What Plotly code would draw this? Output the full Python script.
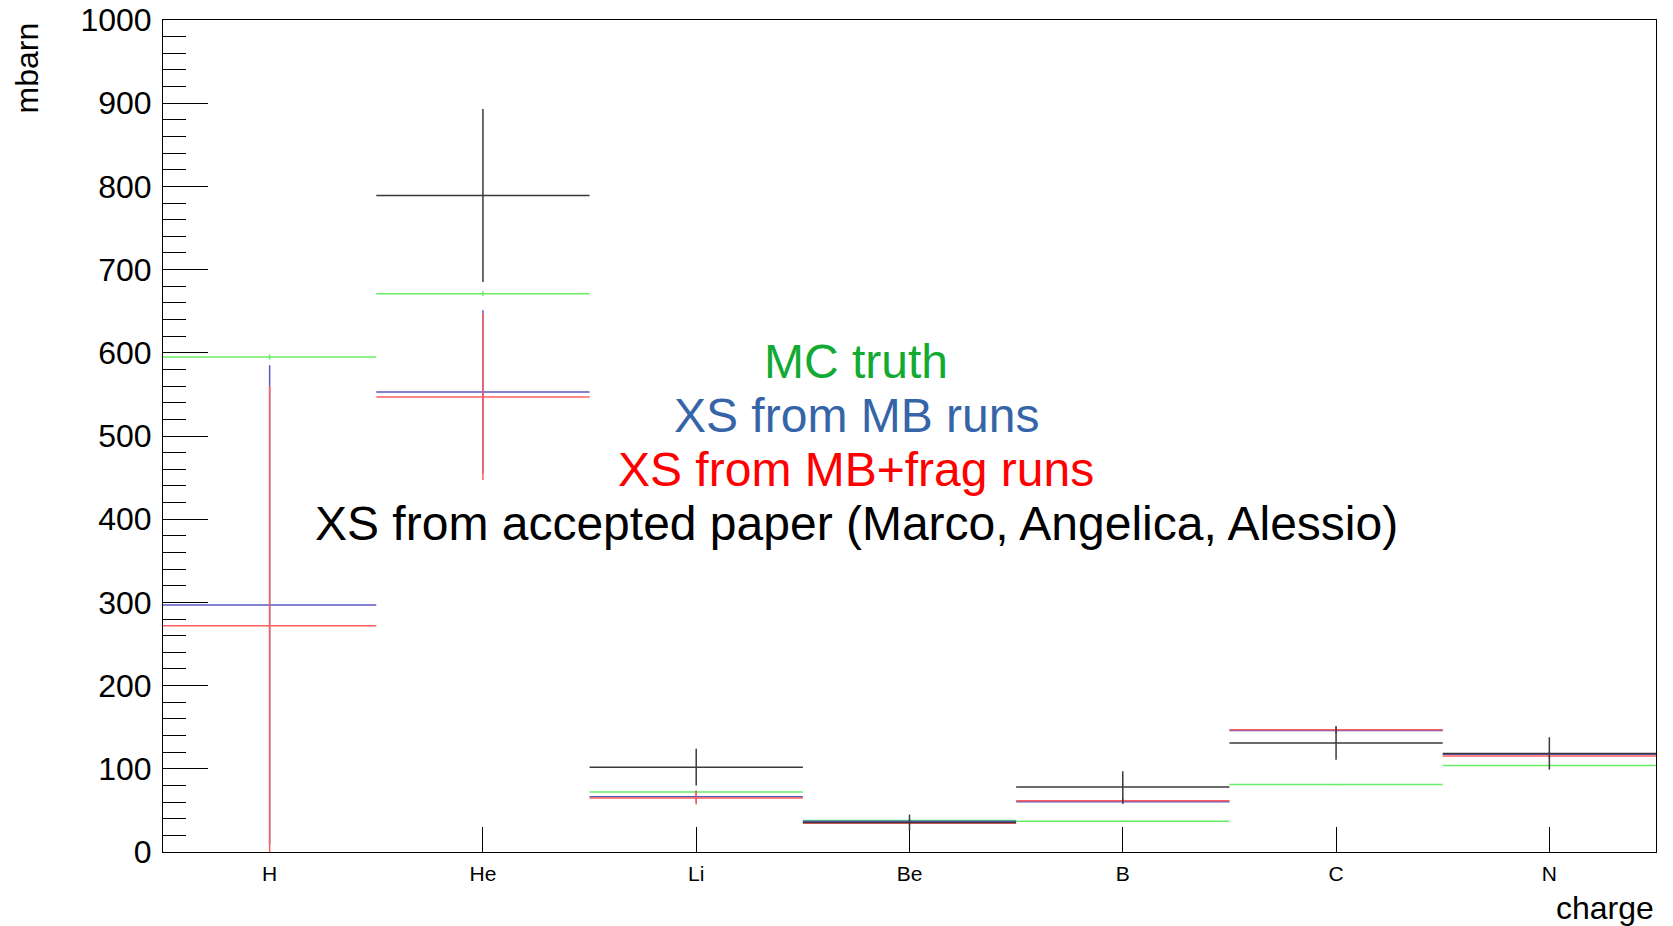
import plotly.graph_objects as go

# ---- data ----
labels = ["H", "He", "Li", "Be", "B", "C", "N"]
bin_centers = [1, 2, 3, 4, 5, 6, 7]

mc_truth = [595, 671, 72, 38, 37, 81, 104]
mc_truth_err = [3, 3, 2, 1, 1, 1, 1]

xs_mb = [297, 553, 66.5, 37, 60.5, 146, 117.5]
xs_mb_err = [288, 98, 7, 2, 3, 4, 3]

xs_mbfrag = [272, 547, 65, 34.5, 61.5, 147, 115.5]
xs_mbfrag_err = [288, 100, 8, 2, 3, 4, 3]

paper_labels = ["He", "Li", "Be", "B", "C", "N"]
paper_centers = [2, 3, 4, 5, 6, 7]
xs_paper = [789, 102, 35.5, 78, 131, 118.5]
xs_paper_err = [104, 22, 9.5, 19, 20, 19.5]

legend_texts = ["MC truth", "XS from MB runs", "XS from MB+frag runs",
                "XS from accepted paper (Marco, Angelica, Alessio)"]
legend_colors = ["#12aa32", "#3565a8", "#ff0000", "#000000"]

FONT = "Liberation Sans, Arial, Helvetica, sans-serif"

fig = go.Figure()


def add_series(x, y, err, color, width=1.5):
    fig.add_trace(go.Scatter(
        x=x, y=y, mode="markers",
        marker=dict(size=1, opacity=0),
        error_x=dict(type="constant", value=0.5, width=0, thickness=width, color=color),
        error_y=dict(type="data", array=err, width=0, thickness=width, color=color),
        showlegend=False, hoverinfo="skip",
    ))


add_series(bin_centers, mc_truth, mc_truth_err, "#66ee66")
add_series(bin_centers, xs_mb, xs_mb_err, "#5858c0")
add_series(bin_centers, xs_mbfrag, xs_mbfrag_err, "#ff5f5f")
add_series(paper_centers, xs_paper, xs_paper_err, "#3a3a3a")

annotations = []
ys = [0.590, 0.525, 0.460, 0.395]
for t, c, yy in zip(legend_texts, legend_colors, ys):
    annotations.append(dict(text=t, x=0.4642, y=yy, xref="paper", yref="paper",
                            xanchor="center", yanchor="middle", showarrow=False,
                            font=dict(family=FONT, size=48, color=c)))
annotations.append(dict(text="mbarn", x=-0.0911, y=1.0, xref="paper", yref="paper",
                        xanchor="center", yanchor="top", textangle=-90, showarrow=False,
                        font=dict(family=FONT, size=32, color="black")))
annotations.append(dict(text="charge", x=1.0, y=-0.0673, xref="paper", yref="paper",
                        xanchor="right", yanchor="middle", showarrow=False,
                        font=dict(family=FONT, size=32, color="black")))

fig.update_layout(
    width=1673, height=926, autosize=False,
    margin=dict(l=163, r=17, t=20, b=74, pad=0, autoexpand=False),
    paper_bgcolor="white", plot_bgcolor="white",
    font=dict(family=FONT, color="black"),
    showlegend=False,
    annotations=annotations,
    xaxis=dict(range=[0.5, 7.5], tickvals=bin_centers, ticktext=labels,
               ticks="inside", ticklen=25, tickcolor="black", tickwidth=1,
               showline=True, linecolor="black", linewidth=1, mirror=True,
               showgrid=False, zeroline=False, automargin=False, layer="below traces",
               ticklabelstandoff=3,
               tickfont=dict(family=FONT, size=21, color="black")),
    yaxis=dict(range=[0, 1000], tick0=0, dtick=100,
               ticks="inside", ticklen=45, tickcolor="black", tickwidth=1,
               minor=dict(ticks="inside", ticklen=23, dtick=20, tickcolor="black",
                          tickwidth=1, showgrid=False),
               showline=True, linecolor="black", linewidth=1, mirror=True,
               showgrid=False, zeroline=False, ticklabelstandoff=4, automargin=False,
               layer="below traces",
               tickfont=dict(family=FONT, size=32, color="black")),
)

fig.write_html("out.html")
